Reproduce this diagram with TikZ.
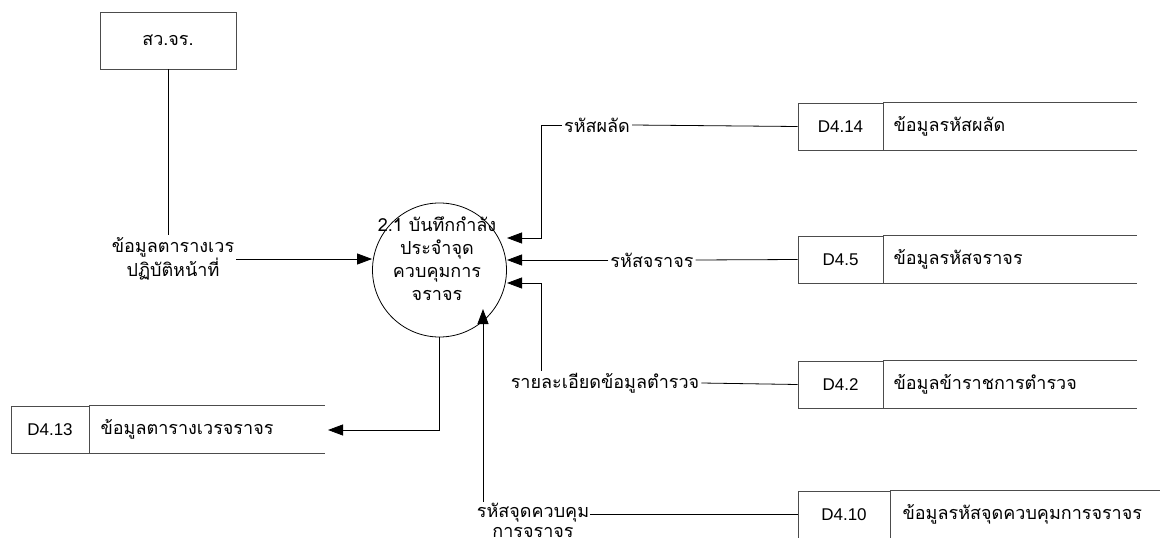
\documentclass[tikz,border=0pt]{standalone}
\usepackage{fontspec}
\setmainfont{Liberation Sans}
\newfontfamily\thaifont[Script=Thai]{Loma}
\usetikzlibrary{arrows.meta}
\begin{document}
\begin{tikzpicture}[x=1pt,y=-1pt,
  every node/.style={font=\thaifont\fontsize{18}{23}\selectfont, inner sep=2pt},
  flow/.style={line width=0.8pt, draw=black},
  arr/.style={flow, -{Triangle[length=15pt,width=11pt]}},
  boxline/.style={line width=0.8pt, draw=black!70},
  entity/.style={rectangle, boxline, minimum width=136pt, minimum height=57pt},
  process/.style={circle, line width=0.8pt, draw=black, minimum size=134pt, inner sep=0pt},
  storeid/.style={rectangle, boxline, minimum height=47pt, inner sep=0pt,
    font=\fontsize{17}{20}\selectfont},
  storename/.style={anchor=west, inner sep=0pt},
  flowlabel/.style={align=center, inner sep=2pt, fill=white}
]
\useasboundingbox (0,0) rectangle (1171,538);

% external entity
\node[entity] (ext) at (168,40.5) {สว.จร.};

% process 2.1
\node[process] (proc) at (439.5,270) {};
\node[align=center, inner sep=0pt] (proctitle) at (437,259)
  {2.1 บันทึกกำลัง\\ประจำจุด\\ควบคุมการ\\จราจร};

% arrow tips around the process
\coordinate (t1) at (507,238);
\coordinate (t2) at (507,260);
\coordinate (t3) at (507,283);
\coordinate (t4) at (483,309);
\coordinate (vx) at (541,300);
\coordinate (outend) at (328,430);

% data stores
\node[storeid, minimum width=85pt] (s14id) at (840.5,126.5) {D4.14};
\node[storename] (s14) at ([xshift=10pt]s14id.east) {ข้อมูลรหัสผลัด};
\draw[boxline] (s14id.north east) -- ++(254,0);
\draw[boxline] (s14id.south east) -- ++(254,0);

\node[storeid, minimum width=85pt] (s5id) at (840.5,259.5) {D4.5};
\node[storename] (s5) at ([xshift=10pt]s5id.east) {ข้อมูลรหัสจราจร};
\draw[boxline] (s5id.north east) -- ++(254,0);
\draw[boxline] (s5id.south east) -- ++(254,0);

\node[storeid, minimum width=85pt] (s2id) at (840.5,384.5) {D4.2};
\node[storename] (s2) at ([xshift=10pt]s2id.east) {ข้อมูลข้าราชการตำรวจ};
\draw[boxline] (s2id.north east) -- ++(254,0);
\draw[boxline] (s2id.south east) -- ++(254,0);

\node[storeid, minimum width=78pt] (s13id) at (50,429.5) {D4.13};
\node[storename] (s13) at ([xshift=11pt]s13id.east) {ข้อมูลตารางเวรจราจร};
\draw[boxline] (s13id.north east) -- ++(236,0);
\draw[boxline] (s13id.south east) -- ++(236,0);

\node[storeid, minimum width=92pt] (s10id) at (844,514.5) {D4.10};
\node[storename] (s10) at ([xshift=12pt]s10id.east) {ข้อมูลรหัสจุดควบคุมการจราจร};
\draw[boxline] (s10id.north east) -- ++(270,0);
\draw[boxline] (s10id.south east) -- ++(270,0);

% flow labels
\node[flowlabel] (in1) at (173,259) {ข้อมูลตารางเวร\\ปฏิบัติหน้าที่};
\node[flowlabel] (r1) at (597,125) {รหัสผลัด};
\node[flowlabel] (r2) at (652,260) {รหัสจราจร};
\node[flowlabel] (r3) at (605,383) {รายละเอียดข้อมูลตำรวจ};
\node[flowlabel, inner sep=1pt, font=\thaifont\fontsize{18}{20}\selectfont]
  (r4) at (533,520) {รหัสจุดควบคุม\\การจราจร};

% flows into the process
\draw[flow] (ext.south) -- (ext.south |- in1.north);
\draw[arr] (in1.east) -- (in1.east -| proc.west);

\draw[flow] (s14id.west) -- (r1.east);
\draw[arr] (r1.west) -- (r1.west -| vx) |- (t1);

\draw[flow] (s5id.west) -- (r2.east);
\draw[arr] (r2.west) -- (t2);

\draw[flow] (s2id.west) -- (r3.east);
\draw[arr] (r3.north -| vx) |- (t3);

\draw[flow] (s10id.west) -- (r4.east |- s10id.west);
\draw[arr] (r4.north -| t4) -- (t4);

% flow out of the process
\draw[arr] (proc.south) |- (outend);
\end{tikzpicture}
\end{document}
